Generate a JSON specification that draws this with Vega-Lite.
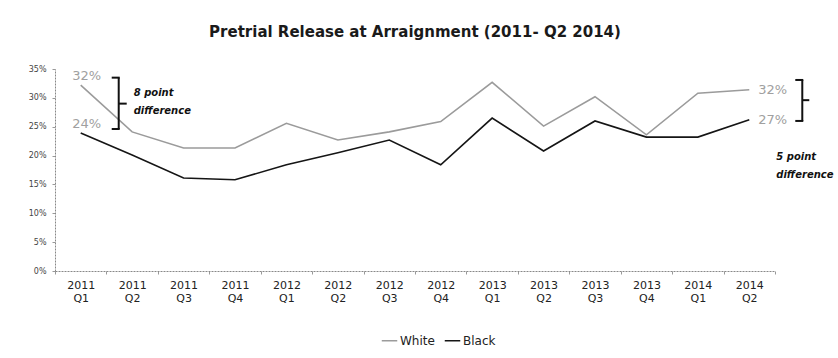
{
  "$schema": "https://vega.github.io/schema/vega-lite/v6.json",
  "width": 720,
  "height": 202,
  "autosize": {"type": "none"},
  "padding": {"left": 55, "top": 69, "right": 63, "bottom": 87},
  "background": "white",
  "config": {
    "view": {"stroke": null},
    "font": "DejaVu Sans",
    "axisY": {
      "tickCount": 7,
      "labelOverlap": false,
      "labelFontSize": 8,
      "labelColor": "#444",
      "labelPadding": 6,
      "tickSize": 3,
      "tickColor": "#999",
      "domainColor": "#888",
      "domainDash": [2, 1],
      "grid": false
    }
  },
  "title": {
    "text": "Pretrial Release at Arraignment (2011- Q2 2014)",
    "fontSize": 15,
    "fontWeight": "bold",
    "font": "DejaVu Sans",
    "color": "#1a1a1a",
    "anchor": "middle",
    "offset": 25
  },
  "datasets": {
    "series": [
      {"quarter": "2011 Q1", "group": "White", "value": 32.2},
      {"quarter": "2011 Q2", "group": "White", "value": 24.1},
      {"quarter": "2011 Q3", "group": "White", "value": 21.3},
      {"quarter": "2011 Q4", "group": "White", "value": 21.3},
      {"quarter": "2012 Q1", "group": "White", "value": 25.6},
      {"quarter": "2012 Q2", "group": "White", "value": 22.7},
      {"quarter": "2012 Q3", "group": "White", "value": 24.1},
      {"quarter": "2012 Q4", "group": "White", "value": 25.9},
      {"quarter": "2013 Q1", "group": "White", "value": 32.7},
      {"quarter": "2013 Q2", "group": "White", "value": 25.1},
      {"quarter": "2013 Q3", "group": "White", "value": 30.2},
      {"quarter": "2013 Q4", "group": "White", "value": 23.6},
      {"quarter": "2014 Q1", "group": "White", "value": 30.8},
      {"quarter": "2014 Q2", "group": "White", "value": 31.4},
      {"quarter": "2011 Q1", "group": "Black", "value": 23.9},
      {"quarter": "2011 Q2", "group": "Black", "value": 20.1},
      {"quarter": "2011 Q3", "group": "Black", "value": 16.1},
      {"quarter": "2011 Q4", "group": "Black", "value": 15.8},
      {"quarter": "2012 Q1", "group": "Black", "value": 18.4},
      {"quarter": "2012 Q2", "group": "Black", "value": 20.5},
      {"quarter": "2012 Q3", "group": "Black", "value": 22.7},
      {"quarter": "2012 Q4", "group": "Black", "value": 18.4},
      {"quarter": "2013 Q1", "group": "Black", "value": 26.5},
      {"quarter": "2013 Q2", "group": "Black", "value": 20.8},
      {"quarter": "2013 Q3", "group": "Black", "value": 26.0},
      {"quarter": "2013 Q4", "group": "Black", "value": 23.2},
      {"quarter": "2014 Q1", "group": "Black", "value": 23.2},
      {"quarter": "2014 Q2", "group": "Black", "value": 26.2}
    ],
    "labels": [
      {"side": "left", "quarter": "2011 Q1", "value": 32.2, "label": "32%"},
      {"side": "left", "quarter": "2011 Q1", "value": 23.9, "label": "24%"},
      {"side": "right", "quarter": "2014 Q2", "value": 31.4, "label": "32%"},
      {"side": "right", "quarter": "2014 Q2", "value": 26.2, "label": "27%"}
    ],
    "brackets": [
      {"side": "left", "quarter": "2011 Q1", "top": 33.5, "bottom": 24.6, "mid": 29.0, "note": ["8 point", "difference"]},
      {"side": "right", "quarter": "2014 Q2", "top": 33.1, "bottom": 26.0, "mid": 29.6, "note": ["5 point", "difference"]}
    ]
  },
  "encoding": {
    "x": {
      "field": "quarter",
      "type": "ordinal",
      "sort": null,
      "scale": {
        "type": "band",
        "paddingInner": 0,
        "paddingOuter": 0,
        "domain": ["2011 Q1", "2011 Q2", "2011 Q3", "2011 Q4", "2012 Q1", "2012 Q2", "2012 Q3", "2012 Q4", "2013 Q1", "2013 Q2", "2013 Q3", "2013 Q4", "2014 Q1", "2014 Q2"]
      },
      "axis": {
        "title": null,
        "labelAngle": 0,
        "labelExpr": "split(datum.label, ' ')",
        "labelFontSize": 11,
        "labelLineHeight": 13,
        "labelColor": "#222",
        "labelPadding": 5,
        "tickBand": "extent",
        "tickSize": 3,
        "tickColor": "#999",
        "domainColor": "#888",
        "domainDash": [2, 1],
        "grid": false
      }
    }
  },
  "layer": [
    {
      "data": {"name": "series"},
      "mark": {"type": "line", "strokeWidth": 1.6},
      "encoding": {
        "y": {
          "field": "value",
          "type": "quantitative",
          "scale": {"domain": [0, 35], "nice": false},
          "axis": {"title": null, "labelExpr": "datum.value + '%'"}
        },
        "color": {
          "field": "group",
          "type": "nominal",
          "scale": {"domain": ["White", "Black"], "range": ["#9b9b9b", "#151515"]},
          "legend": {
            "orient": "none",
            "legendX": 326,
            "legendY": 263,
            "direction": "horizontal",
            "title": null,
            "symbolType": "stroke",
            "symbolSize": 240,
            "symbolStrokeWidth": 1.5,
            "labelFontSize": 12,
            "labelColor": "#222",
            "labelOffset": 2,
            "columnPadding": 6
          }
        }
      }
    },
    {
      "data": {"name": "labels"},
      "transform": [{"filter": "datum.side === 'left'"}],
      "mark": {"type": "text", "align": "center", "baseline": "middle", "dx": 6, "dy": -9, "fontSize": 13, "color": "#a0a0a0"},
      "encoding": {
        "y": {"field": "value", "type": "quantitative", "axis": {"title": null, "labelExpr": "datum.value + '%'"}},
        "text": {"field": "label"}
      }
    },
    {
      "data": {"name": "labels"},
      "transform": [{"filter": "datum.side === 'right'"}],
      "mark": {"type": "text", "align": "left", "baseline": "middle", "dx": 9, "dy": 0, "fontSize": 13, "color": "#a0a0a0"},
      "encoding": {
        "y": {"field": "value", "type": "quantitative", "axis": {"title": null, "labelExpr": "datum.value + '%'"}},
        "text": {"field": "label"}
      }
    },
    {
      "data": {"name": "brackets"},
      "transform": [{"filter": "datum.side === 'left'"}],
      "mark": {"type": "rule", "xOffset": 38, "strokeWidth": 2, "color": "#111"},
      "encoding": {
        "y": {"field": "top", "type": "quantitative", "axis": {"title": null, "labelExpr": "datum.value + '%'"}},
        "y2": {"field": "bottom"}
      }
    },
    {
      "data": {"name": "brackets"},
      "transform": [{"filter": "datum.side === 'left'"}, {"fold": ["top", "bottom"], "as": ["end", "level"]}],
      "mark": {"type": "rule", "xOffset": 31, "x2Offset": 39, "strokeWidth": 2, "color": "#111"},
      "encoding": {
        "x2": {"field": "quarter"},
        "y": {"field": "level", "type": "quantitative", "axis": {"title": null, "labelExpr": "datum.value + '%'"}}
      }
    },
    {
      "data": {"name": "brackets"},
      "transform": [{"filter": "datum.side === 'left'"}],
      "mark": {"type": "rule", "xOffset": 38, "x2Offset": 46, "strokeWidth": 2, "color": "#111"},
      "encoding": {
        "x2": {"field": "quarter"},
        "y": {"field": "mid", "type": "quantitative", "axis": {"title": null, "labelExpr": "datum.value + '%'"}}
      }
    },
    {
      "data": {"name": "brackets"},
      "transform": [{"filter": "datum.side === 'right'"}],
      "mark": {"type": "rule", "xOffset": 53, "strokeWidth": 2, "color": "#111"},
      "encoding": {
        "y": {"field": "top", "type": "quantitative", "axis": {"title": null, "labelExpr": "datum.value + '%'"}},
        "y2": {"field": "bottom"}
      }
    },
    {
      "data": {"name": "brackets"},
      "transform": [{"filter": "datum.side === 'right'"}, {"fold": ["top", "bottom"], "as": ["end", "level"]}],
      "mark": {"type": "rule", "xOffset": 46, "x2Offset": 54, "strokeWidth": 2, "color": "#111"},
      "encoding": {
        "x2": {"field": "quarter"},
        "y": {"field": "level", "type": "quantitative", "axis": {"title": null, "labelExpr": "datum.value + '%'"}}
      }
    },
    {
      "data": {"name": "brackets"},
      "transform": [{"filter": "datum.side === 'right'"}],
      "mark": {"type": "rule", "xOffset": 53, "x2Offset": 60, "strokeWidth": 2, "color": "#111"},
      "encoding": {
        "x2": {"field": "quarter"},
        "y": {"field": "mid", "type": "quantitative", "axis": {"title": null, "labelExpr": "datum.value + '%'"}}
      }
    },
    {
      "data": {"name": "brackets"},
      "transform": [{"filter": "datum.side === 'left'"}],
      "mark": {"type": "text", "align": "left", "baseline": "middle", "dx": 53, "dy": -11, "fontSize": 10, "fontWeight": "bold", "fontStyle": "italic", "lineHeight": 18, "color": "#111"},
      "encoding": {
        "y": {"field": "mid", "type": "quantitative", "axis": {"title": null, "labelExpr": "datum.value + '%'"}},
        "text": {"field": "note"}
      }
    },
    {
      "data": {"name": "brackets"},
      "transform": [{"filter": "datum.side === 'right'"}],
      "mark": {"type": "text", "align": "left", "baseline": "middle", "dx": 27, "dy": 36, "fontSize": 10, "fontWeight": "bold", "fontStyle": "italic", "lineHeight": 18, "color": "#111"},
      "encoding": {
        "y": {"field": "bottom", "type": "quantitative", "axis": {"title": null, "labelExpr": "datum.value + '%'"}},
        "text": {"field": "note"}
      }
    }
  ]
}
